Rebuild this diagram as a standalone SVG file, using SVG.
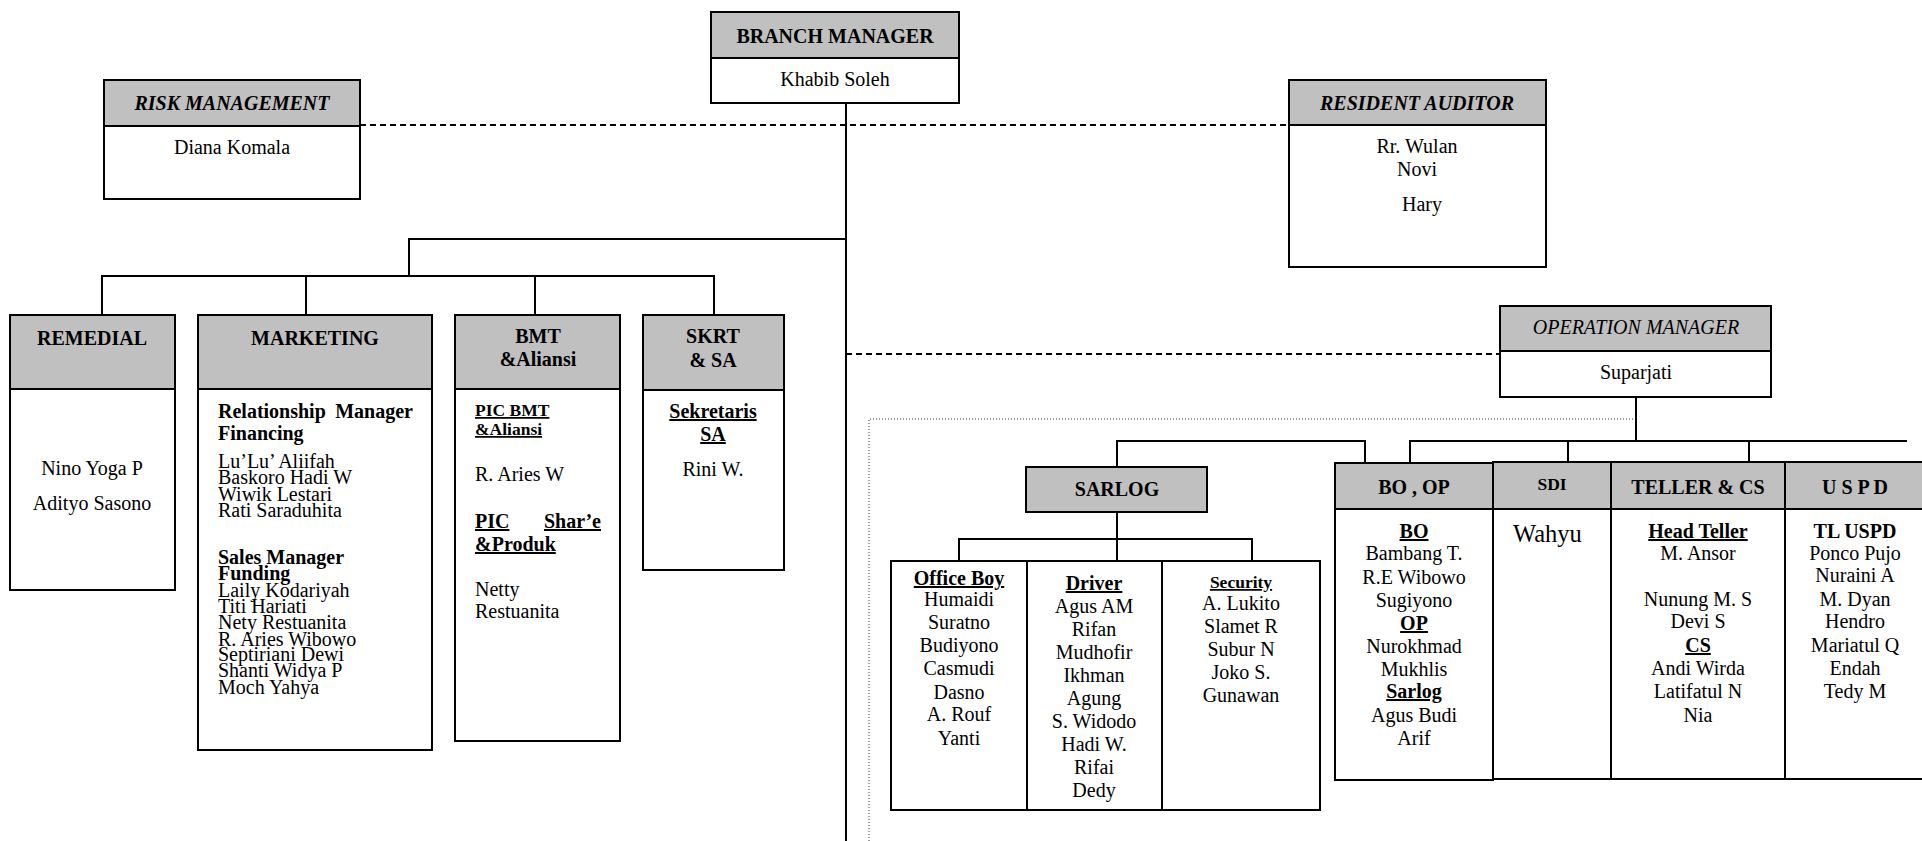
<svg xmlns="http://www.w3.org/2000/svg" width="1922" height="841" viewBox="0 0 1922 841">
<defs>
<style>
text{font-family:"Liberation Serif","Times New Roman",serif;font-size:20px;fill:#000}
.c{text-anchor:middle}
.b{font-weight:bold}
.bi{font-weight:bold;font-style:italic}
.it{font-style:italic}
.u{text-decoration:underline}
.sm{font-size:17.5px}
.lg{font-size:24.5px}
.box{fill:#fff;stroke:#000;stroke-width:2}
.hd{fill:#c0c0c0;stroke:#000;stroke-width:2}
.ln{fill:none;stroke:#000;stroke-width:2}
.ds{fill:none;stroke:#000;stroke-width:2;stroke-dasharray:6 4}
.dt{fill:none;stroke:#333;stroke-width:1;stroke-dasharray:1 2}
</style>
</defs>
<rect width="1922" height="841" fill="#fff"/>

<g id="connectors">
<line class="ds" x1="360" y1="125" x2="1289" y2="125"/>
<line class="ds" x1="846" y1="354" x2="1500" y2="354"/>
<line class="ln" x1="846" y1="103" x2="846" y2="841"/>
<polyline class="ln" points="846,239 409,239 409,276"/>
<line class="ln" x1="101" y1="276" x2="715" y2="276"/>
<line class="ln" x1="102" y1="276" x2="102" y2="315"/>
<line class="ln" x1="306" y1="276" x2="306" y2="315"/>
<line class="ln" x1="535" y1="276" x2="535" y2="315"/>
<line class="ln" x1="714" y1="276" x2="714" y2="315"/>
<polyline class="dt" points="869,841 869,419 1636,419"/>
<line class="ln" x1="1636" y1="397" x2="1636" y2="441"/>
<polyline class="ln" points="1117,467 1117,441 1365,441 1365,463"/>
<polyline class="ln" points="1410,463 1410,441 1907,441"/>
<line class="ln" x1="1568" y1="441" x2="1568" y2="462"/>
<line class="ln" x1="1749" y1="441" x2="1749" y2="462"/>
<line class="ln" x1="1117" y1="512" x2="1117" y2="561"/>
<polyline class="ln" points="959,561 959,539 1252,539 1252,561"/>
</g>

<g id="branch-manager">
<rect class="hd" x="711" y="12" width="248" height="46"/>
<rect class="box" x="711" y="58" width="248" height="45"/>
<text class="c b" x="835" y="43">BRANCH MANAGER</text>
<text class="c" x="835" y="86">Khabib Soleh</text>
</g>

<g id="risk-management">
<rect class="hd" x="104" y="80" width="256" height="46"/>
<rect class="box" x="104" y="126" width="256" height="73"/>
<text class="c bi" x="232" y="110">RISK MANAGEMENT</text>
<text class="c" x="232" y="154">Diana Komala</text>
</g>

<g id="resident-auditor">
<rect class="hd" x="1289" y="80" width="257" height="45"/>
<rect class="box" x="1289" y="125" width="257" height="142"/>
<text class="c bi" x="1417" y="110">RESIDENT AUDITOR</text>
<text class="c" x="1417" y="153">Rr. Wulan</text>
<text class="c" x="1417" y="176">Novi</text>
<text class="c" x="1422" y="211">Hary</text>
</g>

<g id="remedial">
<rect class="hd" x="10" y="315" width="165" height="74"/>
<rect class="box" x="10" y="389" width="165" height="201"/>
<text class="c b" x="92" y="345">REMEDIAL</text>
<text class="c" x="92" y="475">Nino Yoga P</text>
<text class="c" x="92" y="510">Adityo Sasono</text>
</g>

<g id="marketing">
<rect class="hd" x="198" y="315" width="234" height="74"/>
<rect class="box" x="198" y="389" width="234" height="361"/>
<text class="c b" x="315" y="345">MARKETING</text>
<text class="b" x="218" y="418">Relationship</text>
<text class="b" x="413" y="418" text-anchor="end">Manager</text>
<text class="b" x="218" y="440">Financing</text>
<text x="218" y="468">Lu’Lu’ Aliifah</text>
<text x="218" y="484">Baskoro Hadi W</text>
<text x="218" y="501">Wiwik Lestari</text>
<text x="218" y="517">Rati Saraduhita</text>
<text class="b" x="218" y="564">Sales Manager</text>
<text class="b" x="218" y="580">Funding</text>
<text x="218" y="597">Laily Kodariyah</text>
<text x="218" y="613">Titi Hariati</text>
<text x="218" y="629">Nety Restuanita</text>
<text x="218" y="646">R. Aries Wibowo</text>
<text x="218" y="661">Septiriani Dewi</text>
<text x="218" y="677">Shanti Widya P</text>
<text x="218" y="694">Moch Yahya</text>
</g>

<g id="bmt">
<rect class="hd" x="455" y="315" width="165" height="74"/>
<rect class="box" x="455" y="389" width="165" height="352"/>
<text class="c b" x="538" y="343">BMT</text>
<text class="c b" x="538" y="366">&amp;Aliansi</text>
<text class="b u sm" x="475" y="416">PIC BMT</text>
<text class="b u sm" x="475" y="435">&amp;Aliansi</text>
<text x="475" y="481">R. Aries W</text>
<text class="b u" x="475" y="528">PIC</text>
<text class="b u" x="601" y="528" text-anchor="end">Shar’e</text>
<text class="b u" x="475" y="551">&amp;Produk</text>
<text x="475" y="596">Netty</text>
<text x="475" y="618">Restuanita</text>
</g>

<g id="skrt">
<rect class="hd" x="643" y="315" width="141" height="75"/>
<rect class="box" x="643" y="390" width="141" height="180"/>
<text class="c b" x="713" y="343">SKRT</text>
<text class="c b" x="713" y="367">&amp; SA</text>
<text class="c b u" x="713" y="418">Sekretaris</text>
<text class="c b u" x="713" y="441">SA</text>
<text class="c" x="713" y="476">Rini W.</text>
</g>

<g id="operation-manager">
<rect class="hd" x="1500" y="306" width="271" height="45"/>
<rect class="box" x="1500" y="351" width="271" height="46"/>
<text class="c it" x="1636" y="334">OPERATION MANAGER</text>
<text class="c" x="1636" y="379">Suparjati</text>
</g>

<g id="sarlog">
<rect class="hd" x="1026" y="467" width="181" height="45"/>
<text class="c b" x="1117" y="496">SARLOG</text>
</g>

<g id="sarlog-staff">
<rect class="box" x="891" y="561" width="429" height="249"/>
<line class="ln" x1="1027" y1="561" x2="1027" y2="810"/>
<line class="ln" x1="1162" y1="561" x2="1162" y2="810"/>
<text class="c b u" x="959" y="585">Office Boy</text>
<text class="c" x="959" y="606">Humaidi</text>
<text class="c" x="959" y="629">Suratno</text>
<text class="c" x="959" y="652">Budiyono</text>
<text class="c" x="959" y="675">Casmudi</text>
<text class="c" x="959" y="699">Dasno</text>
<text class="c" x="959" y="721">A. Rouf</text>
<text class="c" x="959" y="745">Yanti</text>
<text class="c b u" x="1094" y="590">Driver</text>
<text class="c" x="1094" y="613">Agus AM</text>
<text class="c" x="1094" y="636">Rifan</text>
<text class="c" x="1094" y="659">Mudhofir</text>
<text class="c" x="1094" y="682">Ikhman</text>
<text class="c" x="1094" y="705">Agung</text>
<text class="c" x="1094" y="728">S. Widodo</text>
<text class="c" x="1094" y="751">Hadi W.</text>
<text class="c" x="1094" y="774">Rifai</text>
<text class="c" x="1094" y="797">Dedy</text>
<text class="c b u sm" x="1241" y="588">Security</text>
<text class="c" x="1241" y="610">A. Lukito</text>
<text class="c" x="1241" y="633">Slamet R</text>
<text class="c" x="1241" y="656">Subur N</text>
<text class="c" x="1241" y="679">Joko S.</text>
<text class="c" x="1241" y="702">Gunawan</text>
</g>

<g id="bo-op">
<rect class="hd" x="1335" y="463" width="158" height="46"/>
<rect class="box" x="1335" y="509" width="158" height="271"/>
<text class="c b" x="1414" y="494">BO , OP</text>
<text class="c b u" x="1414" y="538">BO</text>
<text class="c" x="1414" y="560">Bambang T.</text>
<text class="c" x="1414" y="584">R.E Wibowo</text>
<text class="c" x="1414" y="607">Sugiyono</text>
<text class="c b u" x="1414" y="630">OP</text>
<text class="c" x="1414" y="653">Nurokhmad</text>
<text class="c" x="1414" y="676">Mukhlis</text>
<text class="c b u" x="1414" y="698">Sarlog</text>
<text class="c" x="1414" y="722">Agus Budi</text>
<text class="c" x="1414" y="745">Arif</text>
</g>

<g id="sdi">
<rect class="hd" x="1493" y="462" width="118" height="47"/>
<rect class="box" x="1493" y="509" width="118" height="270"/>
<text class="c b sm" x="1552" y="490">SDI</text>
<text class="lg" x="1513" y="542">Wahyu</text>
</g>

<g id="teller-cs">
<rect class="hd" x="1611" y="462" width="174" height="47"/>
<rect class="box" x="1611" y="509" width="174" height="270"/>
<text class="c b" x="1698" y="494">TELLER &amp; CS</text>
<text class="c b u" x="1698" y="538">Head Teller</text>
<text class="c" x="1698" y="560">M. Ansor</text>
<text class="c" x="1698" y="606">Nunung M. S</text>
<text class="c" x="1698" y="628">Devi S</text>
<text class="c b u" x="1698" y="652">CS</text>
<text class="c" x="1698" y="675">Andi Wirda</text>
<text class="c" x="1698" y="698">Latifatul N</text>
<text class="c" x="1698" y="722">Nia</text>
</g>

<g id="uspd">
<rect class="hd" x="1785" y="462" width="140" height="47"/>
<rect class="box" x="1785" y="509" width="140" height="270"/>
<text class="c b" x="1855" y="494">U S P D</text>
<text class="c b" x="1855" y="538">TL USPD</text>
<text class="c" x="1855" y="560">Ponco Pujo</text>
<text class="c" x="1855" y="582">Nuraini A</text>
<text class="c" x="1855" y="606">M. Dyan</text>
<text class="c" x="1855" y="628">Hendro</text>
<text class="c" x="1855" y="652">Mariatul Q</text>
<text class="c" x="1855" y="675">Endah</text>
<text class="c" x="1855" y="698">Tedy M</text>
</g>
</svg>
